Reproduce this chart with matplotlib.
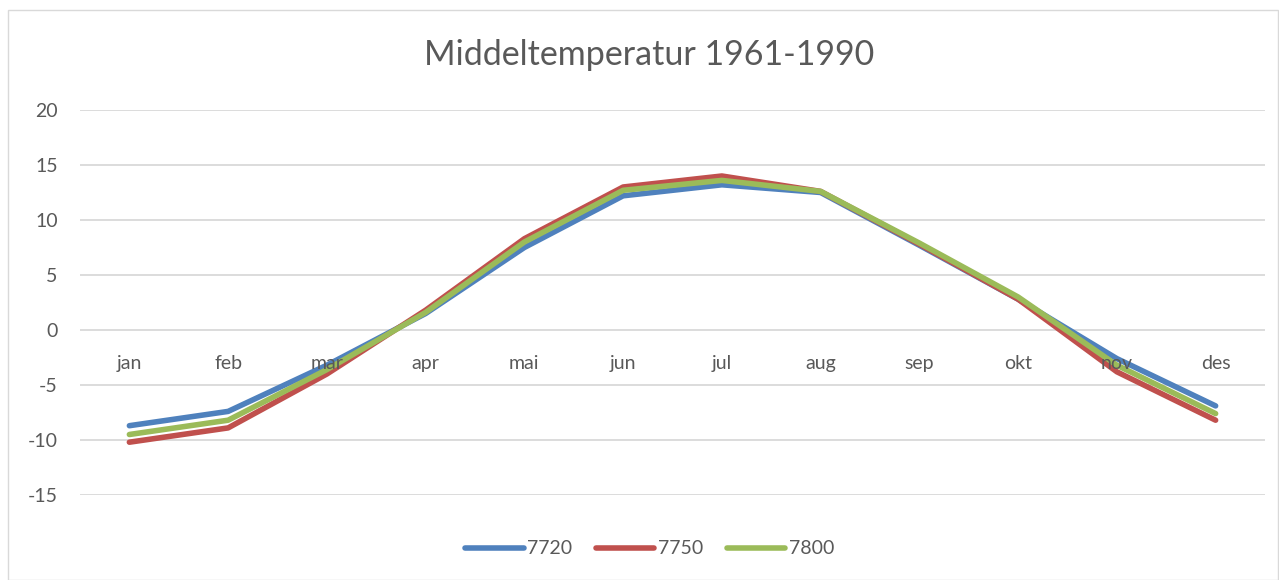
import matplotlib.pyplot as plt
from matplotlib.patches import Rectangle

# Monthly mean temperatures 1961-1990
months = ['jan', 'feb', 'mar', 'apr', 'mai', 'jun', 'jul', 'aug', 'sep', 'okt', 'nov', 'des']
t_7720 = [-8.7, -7.4, -3.2, 1.5, 7.5, 12.2, 13.2, 12.5, 7.7, 2.8, -2.6, -6.9]
t_7750 = [-10.2, -8.9, -4.0, 1.8, 8.3, 13.0, 14.0, 12.6, 7.8, 2.8, -3.8, -8.2]
t_7800 = [-9.5, -8.2, -3.6, 1.6, 8.0, 12.7, 13.6, 12.6, 7.9, 3.0, -3.2, -7.6]
series = [('7720', t_7720, '#4F81BD'), ('7750', t_7750, '#C0504D'), ('7800', t_7800, '#9BBB59')]

plt.rcParams['font.family'] = ['Lato', 'DejaVu Sans']
plt.rcParams['axes.unicode_minus'] = False
text_col = '#595959'

fig = plt.figure(figsize=(12.79, 5.8), dpi=100)
fig.patches.append(Rectangle((8 / 1279, 0), 1 - 8 / 1279 - 1 / 1279, 1 - 10 / 580,
                             transform=fig.transFigure, fill=False,
                             edgecolor='#D9D9D9', linewidth=1))
ax = fig.add_axes([80 / 1279, 1 - 495 / 580, 1185 / 1279, 385 / 580])

x = list(range(len(months)))
for name, vals, col in series:
    ax.plot(x, vals, color=col, linewidth=4, solid_capstyle='round',
            solid_joinstyle='round', label=name)

ax.set_xlim(-0.5, len(months) - 0.5)
ax.set_ylim(-15, 20)
ax.set_yticks(range(-15, 21, 5))
ax.yaxis.grid(True, color='#D9D9D9', linewidth=1.3)
ax.set_axisbelow(True)
# month labels sit on top of the lines, like in the original
ax.xaxis.set_zorder(3)
for s in ['top', 'right', 'left']:
    ax.spines[s].set_visible(False)
ax.spines['bottom'].set_position(('data', 0))
ax.spines['bottom'].set_visible(False)
ax.set_xticks(x)
ax.set_xticklabels(months)
ax.tick_params(axis='x', length=0, pad=18, labelsize=14, labelcolor=text_col)
ax.tick_params(axis='y', length=0, pad=16, labelsize=14, labelcolor=text_col)

fig.text(649 / 1279, 1 - 55 / 580, 'Middeltemperatur 1961-1990', ha='center', va='center',
         fontsize=24.5, color=text_col)

fig.legend(loc='center', bbox_to_anchor=(0.508, 1 - 549 / 580), ncol=3, frameon=False,
           fontsize=14, labelcolor=text_col, handlelength=3.0, handletextpad=0.2,
           columnspacing=1.2)

fig.savefig('out.png', dpi=100)
